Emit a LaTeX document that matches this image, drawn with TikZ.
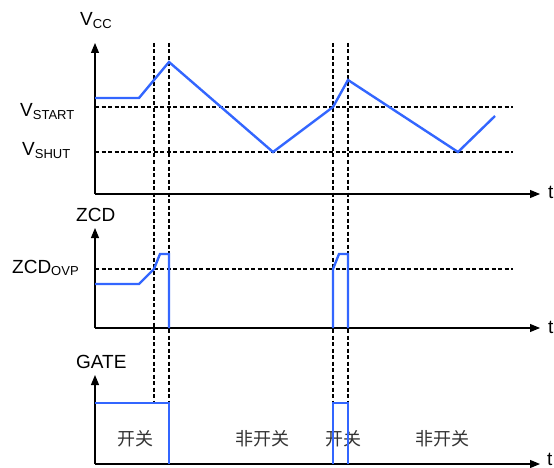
\documentclass[tikz,border=0pt]{standalone}
\usepackage{fontspec}
\setmainfont{Liberation Sans}
\newfontfamily\cjk{Noto Sans CJK SC}
\usetikzlibrary{arrows.meta}
\definecolor{sigblue}{RGB}{51,102,255}
\newcommand\subtxt[1]{\raisebox{-2.5pt}{\fontsize{13}{13}\selectfont #1}}
\begin{document}
\begin{tikzpicture}[x=1pt,y=-1pt,
  axis/.style={line width=1.1pt,-{Triangle[length=10pt,width=8pt]}},
  guide/.style={line width=1.2pt,dash pattern=on 4pt off 2.5pt},
  sig/.style={line width=2.4pt,sigblue},
  lbl/.style={font=\fontsize{19}{19}\selectfont,inner sep=0pt,anchor=base west},
  cjklbl/.style={font=\cjk\fontsize{18}{18}\selectfont,inner sep=0pt,text=black!80}]
\useasboundingbox (0,0) rectangle (554,468);
% ---------- guides ----------
\foreach \x/\n in {154/a,169/b,333/c,348/d}{
  \coordinate (g\n top) at (\x,43);
  \coordinate (g\n bot) at (\x,403);
  \draw[guide] (g\n top) -- (g\n bot);
}
\coordinate (vs0) at (95,107);  \coordinate (vs1) at (513,107);
\coordinate (vh0) at (95,152);  \coordinate (vh1) at (513,152);
\coordinate (zo0) at (95,269);  \coordinate (zo1) at (513,269);
\draw[guide] (vs0) -- (vs1);
\draw[guide] (vh0) -- (vh1);
\draw[guide] (zo0) -- (zo1);
% ---------- axes ----------
\coordinate (o1) at (95,194); \coordinate (y1) at (95,43);  \coordinate (x1) at (540,194);
\coordinate (o2) at (95,328); \coordinate (y2) at (95,228); \coordinate (x2) at (540,328);
\coordinate (o3) at (95,464); \coordinate (y3) at (95,375); \coordinate (x3) at (540,464);
\draw[axis] (o1) -- (y1);
\draw[axis] (o1) -- (x1);
\draw[axis] (o2) -- (y2);
\draw[axis] (o2) -- (x2);
\draw[axis] (o3) -- (y3);
\draw[axis] (o3) -- (x3);
% ---------- labels ----------
\node[lbl] (lvcc) at (80,26) {V\subtxt{CC}};
\node[lbl] (lvstart) at (20,117) {V\subtxt{START}};
\node[lbl] (lvshut) at (22,156) {V\subtxt{SHUT}};
\node[lbl] (lzcd) at (76,221) {ZCD};
\node[lbl] (lzovp) at (12,273) {ZCD\subtxt{OVP}};
\node[lbl] (lgate) at (76,368) {GATE};
\node[lbl] (t1) at (548,198) {t};
\node[lbl] (t2) at (548,333) {t};
\node[lbl] (t3) at (547,465) {t};
\node[cjklbl] (k1) at (135,439) {开关};
\node[cjklbl] (n1) at (262,439) {非开关};
\node[cjklbl] (k2) at (343,439) {开关};
\node[cjklbl] (n2) at (442,439) {非开关};
% ---------- signals ----------
\draw[sig] (95,98) -- (139,98) -- (169,62) -- (273,152) -- (333,107)
  -- (348,80) -- (458,152) -- (495,116);
\draw[sig] (95,284) -- (139,284) -- (154,269) -- (160,254) -- (169,254) -- (169,328);
\draw[sig] (333,328) -- (333,269) -- (339,254) -- (348,254) -- (348,328);
\draw[sig] (95,403) -- (169,403) -- (169,464);
\draw[sig] (333,464) -- (333,403) -- (348,403) -- (348,464);
\end{tikzpicture}
\end{document}
